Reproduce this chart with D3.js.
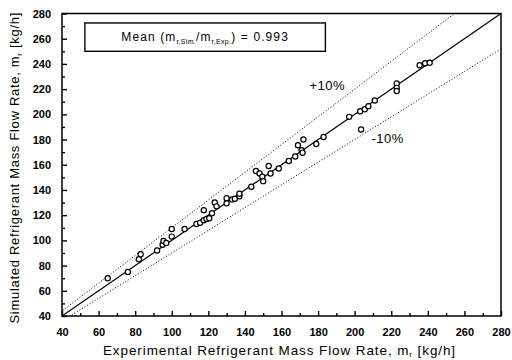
<!DOCTYPE html>
<meta charset="utf-8" />
<script src="https://d3js.org/d3.v7.min.js"></script>
<style>
  body { margin: 0; background: #fff; }
  text { font-family: "Liberation Sans", Arial, sans-serif; fill: #000; }
</style>
<div id="chart"></div>
<script>
  // experimental (x) vs simulated (y) mass flow rate, kg/h
  const expFlow = [65, 76, 82, 83, 92, 95, 95.5, 97, 100, 100, 107, 113.5, 115.5, 117.5, 117.5, 119, 120.5,
    122, 123.5, 124.5, 130, 130, 133, 134.5, 137, 137, 143.5, 146, 148, 149.5, 150, 153, 154, 158.5,
    164, 167.5, 169, 171, 171.5, 172, 179, 183, 197, 203.5, 203, 205.5, 207.5, 211, 223, 223, 223,
    235.5, 238.5, 241];
  const simFlow = [70, 75, 85, 89, 92, 96.5, 99.5, 98, 103, 109, 109, 113, 114, 124, 116, 117, 117.5,
    121.5, 130, 127, 129.5, 133.5, 132.5, 133, 135, 137, 142.5, 155, 153, 150.5, 147, 159, 153, 157,
    163, 166.5, 175.5, 171.5, 169.5, 180, 176.5, 182, 198, 188, 202.5, 204, 206.5, 211, 224.5, 221, 218.5,
    239, 240.5, 241];
  const tickValues = [40, 60, 80, 100, 120, 140, 160, 180, 200, 220, 240, 260, 280];
  const minorValues = [50, 70, 90, 110, 130, 150, 170, 190, 210, 230, 250, 270];
  const bandFactors = [1.1, 0.9];
  const bandLabels = ["+10%", "-10%"];
  const meanRatio = "0.993";

  const margin = { top: 13.5, right: 11, bottom: 44, left: 62 },
    width = 512 - margin.left - margin.right,
    height = 360 - margin.top - margin.bottom;

  const root = d3.select("#chart").append("svg")
    .attr("width", 512).attr("height", 360);
  const svg = root.append("g")
    .attr("transform", `translate(${margin.left}, ${margin.top})`);

  const x = d3.scaleLinear().domain([40, 280]).range([0, width]);
  const y = d3.scaleLinear().domain([40, 280]).range([height, 0]);

  svg.append("clipPath").attr("id", "clip")
    .append("rect").attr("width", width).attr("height", height);

  // +/-10% dotted lines
  const plot = svg.append("g").attr("clip-path", "url(#clip)");
  bandFactors.forEach(function (f) {
    plot.append("line")
      .attr("x1", x(30)).attr("y1", y(30 * f))
      .attr("x2", x(300)).attr("y2", y(300 * f))
      .attr("stroke", "#000").attr("stroke-width", 1)
      .attr("stroke-dasharray", "1,2");
  });
  // perfect agreement line
  plot.append("line")
    .attr("x1", x(40)).attr("y1", y(40))
    .attr("x2", x(280)).attr("y2", y(280))
    .attr("stroke", "#000").attr("stroke-width", 1.2);

  // axes with inward ticks
  svg.append("g").attr("transform", `translate(0, ${height})`)
    .call(d3.axisBottom(x).tickValues(tickValues).tickSize(-5).tickPadding(12));
  svg.append("g")
    .call(d3.axisLeft(y).tickValues(tickValues).tickSize(-5).tickPadding(11));
  svg.append("g").attr("transform", `translate(0, ${height})`)
    .call(d3.axisBottom(x).tickValues(minorValues).tickSize(-3).tickFormat(""));
  svg.append("g")
    .call(d3.axisLeft(y).tickValues(minorValues).tickSize(-3).tickFormat(""));
  svg.selectAll(".domain").remove();
  svg.selectAll(".tick line").attr("stroke", "#000").attr("stroke-width", 1.4);
  svg.selectAll(".tick text").style("font-size", "11px")
    .style("font-family", "'Liberation Sans', Arial, sans-serif").style("font-weight", "bold")
    .attr("fill", "#000");

  // frame
  svg.append("rect").attr("width", width).attr("height", height)
    .attr("fill", "none").attr("stroke", "#000").attr("stroke-width", 1.5);

  // data points
  const data = expFlow.map(function (d, i) { return { e: d, s: simFlow[i] }; });
  svg.selectAll("circle.pt").data(data).join("circle")
    .attr("class", "pt")
    .attr("cx", function (d) { return x(d.e); })
    .attr("cy", function (d) { return y(d.s); })
    .attr("r", 2.6)
    .attr("fill", "#fff").attr("stroke", "#000").attr("stroke-width", 1.2);

  // band labels
  svg.append("text").attr("x", x(185)).attr("y", y(219)).attr("text-anchor", "middle")
    .style("font-size", "13px").style("letter-spacing", "0.5px").text(bandLabels[0]);
  svg.append("text").attr("x", x(218)).attr("y", y(177)).attr("text-anchor", "middle")
    .style("font-size", "13px").style("letter-spacing", "0.5px").text(bandLabels[1]);

  // mean box
  const boxX = x(52.5), boxY = y(272.5);
  svg.append("rect").attr("x", boxX).attr("y", boxY)
    .attr("width", x(184) - boxX).attr("height", y(250) - boxY)
    .attr("fill", "#fff").attr("stroke", "#000").attr("stroke-width", 1.4);
  const meanText = svg.append("text").attr("x", (boxX + x(184)) / 2).attr("y", y(258.5))
    .attr("text-anchor", "middle").style("font-size", "12px").style("letter-spacing", "1.1px");
  meanText.append("tspan").text("Mean (m");
  meanText.append("tspan").attr("dy", 3).style("font-size", "7px").style("letter-spacing", "0.3px").text("r,Sim.");
  meanText.append("tspan").attr("dy", -3).text("/m");
  meanText.append("tspan").attr("dy", 3).style("font-size", "7px").style("letter-spacing", "0.3px").text("r,Exp.");
  meanText.append("tspan").attr("dy", -3).text(") = " + meanRatio);

  // axis titles
  const xt = root.append("text").attr("x", margin.left + width / 2 - 2).attr("y", 355)
    .attr("text-anchor", "middle").style("font-size", "13.5px").style("letter-spacing", "0.9px");
  xt.append("tspan").text("Experimental Refrigerant Mass Flow Rate, m");
  xt.append("tspan").attr("dy", 2).style("font-size", "8px").text("r");
  xt.append("tspan").attr("dy", -2).text(" [kg/h]");

  const yt = root.append("text")
    .attr("transform", `translate(19, ${margin.top + height / 2 + 3}) rotate(-90)`)
    .attr("text-anchor", "middle").style("font-size", "13px").style("letter-spacing", "0.7px");
  yt.append("tspan").text("Simulated Refrigerant Mass Flow Rate, m");
  yt.append("tspan").attr("dy", 3).style("font-size", "8px").text("r");
  yt.append("tspan").attr("dy", -3).text(" [kg/h]");
</script>
